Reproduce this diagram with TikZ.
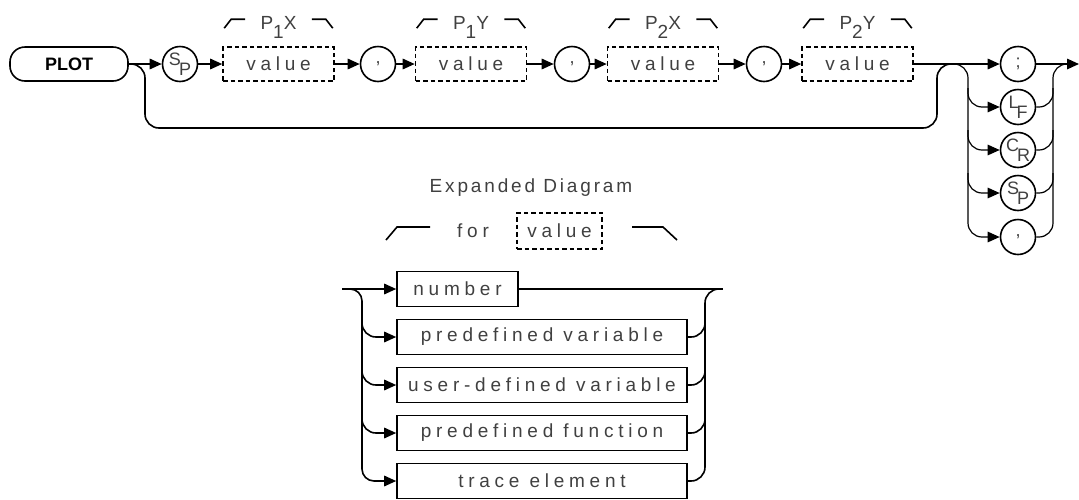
\documentclass[tikz,border=0pt]{standalone}
\usepackage{fontspec}
\setmainfont{Liberation Sans}
\newfontfamily\hpfont[LetterSpace=25]{Liberation Sans}
\newfontfamily\hpwfont[LetterSpace=15]{Liberation Sans}
\newfontfamily\hpcfont{Liberation Sans}
\newcommand\myvfont{\hpfont\fontsize{19}{21}\selectfont}
\newcommand\myefont{\hpwfont\fontsize{19}{21}\selectfont}
\newcommand\mycfont{\hpcfont\fontsize{18}{20}\selectfont}
\newcommand\ssub[2]{\raisebox{4pt}{#1}\hspace{-2pt}\raisebox{-6pt}{#2}}
\usetikzlibrary{arrows.meta}
\begin{document}
\begin{tikzpicture}[x=1pt,y=-1pt,
  ln/.style={line width=1.6pt},
  thinln/.style={line width=1.2pt},
  arr/.style={-{Triangle[length=12pt,width=10.5pt]}},
  dbox/.style={draw,line width=1.6pt,dash pattern=on 4.5pt off 3pt,minimum width=111pt,minimum height=34pt,inner sep=0pt,text=black!75,font=\myvfont},
  sbox/.style={draw,line width=1.6pt,minimum height=35pt,inner sep=0pt,text=black!75,font=\myvfont},
  circ/.style={draw,circle,line width=1.6pt,minimum size=35pt,inner sep=0pt,text=black!75,font=\mycfont},
  lbl/.style={text=black!75,font=\myvfont,inner sep=0pt},
  brk/.style={line width=1.6pt}]
\useasboundingbox (0,0) rectangle (1079,499);

% ---------- top row ----------
\node[draw,rounded corners=15pt,line width=1.6pt,minimum width=118pt,minimum height=34pt,inner sep=0pt,font=\bfseries\fontsize{18}{20}\selectfont] (plot) at (69,64) {PLOT};
\node[circ] (sp1) at (180,64) {\ssub{S}{P}};
\node[dbox] (v1) at (278.5,64) {value};
\node[circ] (c1) at (378,64) {,};
\node[dbox] (v2) at (471,64) {value};
\node[circ] (c2) at (572,64) {,};
\node[dbox] (v3) at (663,64) {value};
\node[circ] (c3) at (764,64) {,};
\node[dbox] (v4) at (857.5,64) {value};
\node[circ] (semi) at (1018,64) {;};
\node[circ] (lf) at (1018,107) {\ssub{L}{F}};
\node[circ] (cr) at (1018,150) {\ssub{C}{R}};
\node[circ] (spb) at (1018,193) {\ssub{S}{P}};
\node[circ] (cm) at (1018,237) {,};
\coordinate (fin) at (1079,64);

\node[lbl] (l1) at (278.5,27) {P\raisebox{-9pt}{1}X};
\node[lbl] (l2) at (471,27) {P\raisebox{-9pt}{1}Y};
\node[lbl] (l3) at (663,27) {P\raisebox{-9pt}{2}X};
\node[lbl] (l4) at (857.5,27) {P\raisebox{-9pt}{2}Y};
\foreach \v in {v1,v2,v3,v4}{
  \draw[brk] ([shift={(2,-18)}]\v.north west) -- ++(7,-9) -- ++(14,0);
  \draw[brk] ([shift={(-2,-18)}]\v.north east) -- ++(-7,-9) -- ++(-14,0);
}

\draw[ln,arr] (plot) -- (sp1);
\draw[ln,arr] (sp1) -- (v1);
\draw[ln,arr] (v1) -- (c1);
\draw[ln,arr] (c1) -- (v2);
\draw[ln,arr] (v2) -- (c2);
\draw[ln,arr] (c2) -- (v3);
\draw[ln,arr] (v3) -- (c3);
\draw[ln,arr] (c3) -- (v4);
\draw[ln,arr] (v4) -- (semi);
\draw[ln,arr] (semi) -- (fin);

% bypass
\draw[ln,rounded corners=14pt] (plot.east) -- (145,64) -- (145,128) -- (937,128) -- (937,64) -- (953,64);
% left rail of terminators
\draw[thinln,arr,rounded corners=14pt] (952,64) -- (968,64) -- (968,237) -- (cm.west);
\draw[thinln,arr,rounded corners=14pt] (968,88) -- (968,107) -- (lf.west);
\draw[thinln,arr,rounded corners=14pt] (968,130) -- (968,150) -- (cr.west);
\draw[thinln,arr,rounded corners=14pt] (968,173) -- (968,193) -- (spb.west);
% right rail
\draw[thinln,rounded corners=14pt] (cm.east) -- (1053,237) -- (1053,64) -- (1069,64);
\draw[thinln,rounded corners=14pt] (lf.east) -- (1053,107) -- (1053,88);
\draw[thinln,rounded corners=14pt] (cr.east) -- (1053,150) -- (1053,130);
\draw[thinln,rounded corners=14pt] (spb.east) -- (1053,193) -- (1053,173);

% ---------- expanded diagram ----------
\node[lbl,font=\myefont] (exp) at (531,188) {Expanded Diagram};
\node[lbl] (for) at (473,231) {for};
\node[dbox,minimum width=85pt,minimum height=36pt] (vx) at (559.5,231) {value};
\draw[brk] (386,240) -- (397,227) -- (430,227);
\draw[brk] (632,227) -- (663,227) -- (677,240);

\node[sbox,minimum width=121pt] (num) at (457.5,289) {number};
\node[sbox,minimum width=290pt] (pv) at (542,337) {predefined variable};
\node[sbox,minimum width=290pt] (uv) at (542,385) {user-defined variable};
\node[sbox,minimum width=290pt] (pf) at (542,433) {predefined function};
\node[sbox,minimum width=290pt] (te) at (542,481) {trace element};
\coordinate (ein) at (342,289);
\coordinate (eout) at (723,289);

\draw[ln,arr] (ein) -- (num);
\draw[ln] (num) -- (eout);
\draw[ln,arr,rounded corners=12pt] (348,289) -- (362,289) -- (362,481) -- (te.west);
\draw[ln,arr,rounded corners=14pt] (362,318) -- (362,337) -- (pv.west);
\draw[ln,arr,rounded corners=14pt] (362,366) -- (362,385) -- (uv.west);
\draw[ln,arr,rounded corners=14pt] (362,414) -- (362,433) -- (pf.west);
\draw[ln,rounded corners=14pt] (te.east) -- (705,481) -- (705,289) -- (720,289);
\draw[ln,rounded corners=14pt] (pv.east) -- (705,337) -- (705,318);
\draw[ln,rounded corners=14pt] (uv.east) -- (705,385) -- (705,366);
\draw[ln,rounded corners=14pt] (pf.east) -- (705,433) -- (705,414);
\end{tikzpicture}
\end{document}
